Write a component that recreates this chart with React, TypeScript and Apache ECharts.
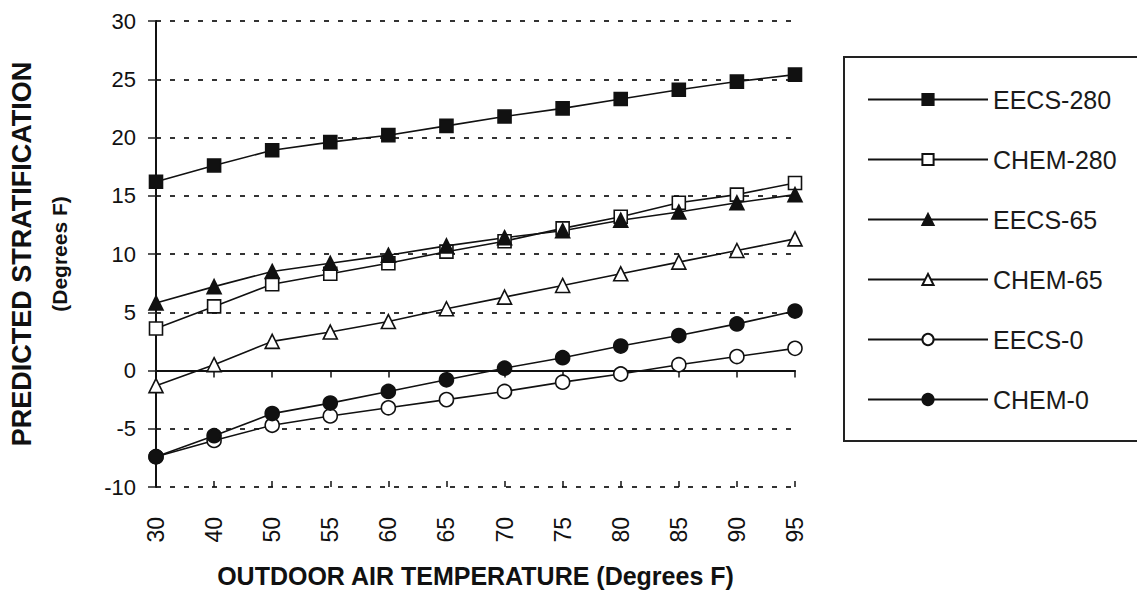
import React, { useEffect, useRef } from "react";
import * as echarts from "echarts";

const temps = ["30", "40", "50", "55", "60", "65", "70", "75", "80", "85", "90", "95"];
const eecs280 = [16.2, 17.6, 18.9, 19.6, 20.2, 21.0, 21.8, 22.5, 23.3, 24.1, 24.8, 25.4];
const chem280 = [3.6, 5.5, 7.4, 8.3, 9.2, 10.2, 11.1, 12.2, 13.2, 14.4, 15.1, 16.1];
const eecs65 = [5.8, 7.2, 8.5, 9.2, 9.9, 10.7, 11.4, 12.0, 12.9, 13.6, 14.4, 15.1];
const chem65 = [-1.3, 0.5, 2.5, 3.3, 4.2, 5.3, 6.3, 7.3, 8.3, 9.3, 10.3, 11.3];
const eecs0 = [-7.4, -6.0, -4.7, -3.9, -3.2, -2.5, -1.8, -1.0, -0.3, 0.5, 1.2, 1.9];
const chem0 = [-7.4, -5.6, -3.7, -2.8, -1.8, -0.8, 0.2, 1.1, 2.1, 3.0, 4.0, 5.1];
const yTicks = { min: -10, max: 30, interval: 5 };

const seriesDefs = [
  { name: "EECS-280", data: eecs280, symbol: "rect", fill: "#111", size: 13 },
  { name: "CHEM-280", data: chem280, symbol: "rect", fill: "#fff", size: 13 },
  { name: "EECS-65", data: eecs65, symbol: "triangle", fill: "#111", size: 14 },
  { name: "CHEM-65", data: chem65, symbol: "triangle", fill: "#fff", size: 14 },
  { name: "EECS-0", data: eecs0, symbol: "circle", fill: "#fff", size: 14 },
  { name: "CHEM-0", data: chem0, symbol: "circle", fill: "#111", size: 14 },
];

const FONT = "Liberation Sans, Arial, sans-serif";

export default function App() {
  const ref = useRef<HTMLDivElement>(null);
  useEffect(() => {
    const chart = echarts.init(ref.current!, null, { renderer: "svg" });
    chart.setOption({
      animation: false,
      backgroundColor: "#fff",
      textStyle: { fontFamily: FONT },
      grid: { left: 156, right: 342, top: 21, bottom: 104, containLabel: false, outerBoundsMode: "none" },
      legend: {
        orient: "vertical",
        left: 862,
        top: 82,
        itemWidth: 120,
        itemHeight: 14,
        itemGap: 35,
        textStyle: { fontSize: 25, color: "#1a1a1a", fontFamily: FONT },
        data: seriesDefs.map((s) => s.name),
      },
      graphic: [
        {
          type: "rect",
          shape: { x: 844, y: 57, width: 400, height: 384 },
          style: { fill: "none", stroke: "#222", lineWidth: 2 },
          silent: true,
        },
      ],
      xAxis: [
        {
          type: "category",
          data: temps,
          boundaryGap: false,
          axisLine: { lineStyle: { color: "#111", width: 2 } },
          axisTick: { show: true, length: 7, alignWithLabel: true, lineStyle: { color: "#111", width: 1.5 } },
          axisLabel: { rotate: 90, margin: 30, fontSize: 23, color: "#111", fontFamily: FONT },
          splitLine: { show: false },
          name: "OUTDOOR AIR TEMPERATURE (Degrees F)",
          nameLocation: "middle",
          nameGap: 76,
          nameTextStyle: { fontSize: 25, lineHeight: 25, fontWeight: "bold", color: "#111", fontFamily: FONT },
        },
        {
          type: "category",
          data: temps,
          boundaryGap: false,
          position: "bottom",
          axisLine: { show: false },
          axisTick: { show: true, inside: true, length: 6, lineStyle: { color: "#111", width: 1.5 } },
          axisLabel: { show: false },
          splitLine: { show: false },
        },
      ],
      yAxis: {
        type: "value",
        min: yTicks.min,
        max: yTicks.max,
        interval: yTicks.interval,
        axisLine: { show: true, lineStyle: { color: "#111", width: 2 } },
        axisTick: { show: true, length: 8, lineStyle: { color: "#222", width: 1.5 } },
        axisLabel: { fontSize: 22, color: "#111", margin: 20, fontFamily: FONT },
        splitLine: { show: true, lineStyle: { color: "#333", width: 2, type: [5, 9] } },
        name: "{a|PREDICTED STRATIFICATION}\n{b|(Degrees F)}",
        nameLocation: "middle",
        nameGap: 77,
        nameRotate: 90,
        nameTextStyle: {
          color: "#111",
          fontFamily: FONT,
          align: "center",
          rich: {
            a: { fontSize: 27, fontWeight: "bold", lineHeight: 34, color: "#111", fontFamily: FONT },
            b: { fontSize: 21, fontWeight: "bold", lineHeight: 40, color: "#111", fontFamily: FONT },
          },
        },
      },
      series: seriesDefs.map((s) => ({
        name: s.name,
        type: "line",
        data: s.data,
        symbol: s.symbol,
        symbolSize: s.size,
        showSymbol: true,
        lineStyle: { color: "#111", width: 1.6 },
        itemStyle: { color: s.fill, borderColor: "#111", borderWidth: 1.6 },
      })),
    });
    return () => chart.dispose();
  }, []);
  return <div ref={ref} style={{ position: "absolute", left: 0, top: 0, width: 1137, height: 591 }} />;
}
